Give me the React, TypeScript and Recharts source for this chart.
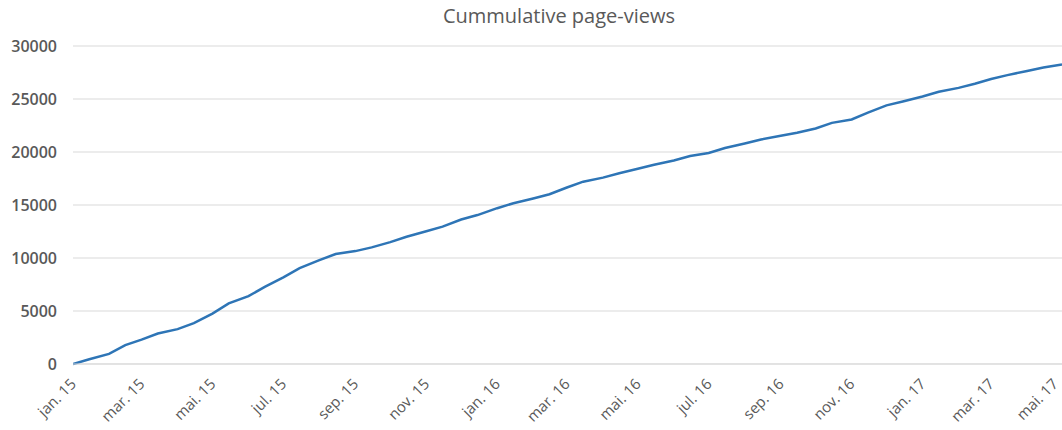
import { LineChart, Line, XAxis, YAxis, CartesianGrid } from 'recharts'

// semi-monthly readings of the cumulative count
const dates = [
    '2015-01-01', '2015-01-15', '2015-02-01', '2015-02-15', '2015-03-01', '2015-03-15',
    '2015-04-01', '2015-04-15', '2015-05-01', '2015-05-15', '2015-06-01', '2015-06-15',
    '2015-07-01', '2015-07-15', '2015-08-01', '2015-08-15', '2015-09-01', '2015-09-15',
    '2015-10-01', '2015-10-15', '2015-11-01', '2015-11-15', '2015-12-01', '2015-12-15',
    '2016-01-01', '2016-01-15', '2016-02-01', '2016-02-15', '2016-03-01', '2016-03-15',
    '2016-04-01', '2016-04-15', '2016-05-01', '2016-05-15', '2016-06-01', '2016-06-15',
    '2016-07-01', '2016-07-15', '2016-08-01', '2016-08-15', '2016-09-01', '2016-09-15',
    '2016-10-01', '2016-10-15', '2016-11-01', '2016-11-15', '2016-12-01', '2016-12-15',
    '2017-01-01', '2017-01-15', '2017-02-01', '2017-02-15', '2017-03-01', '2017-03-15',
    '2017-04-01', '2017-04-15', '2017-05-01'
]

const views = [
    0, 450, 950, 1780, 2300, 2880,
    3290, 3850, 4750, 5720, 6400, 7280,
    8180, 9050, 9800, 10380, 10650, 11000,
    11500, 12000, 12520, 12960, 13630, 14050,
    14700, 15170, 15620, 16020, 16650, 17200,
    17580, 18000, 18420, 18800, 19200, 19620,
    19900, 20370, 20800, 21180, 21530, 21820,
    22220, 22750, 23070, 23720, 24400, 24760,
    25230, 25680, 26050, 26440, 26880, 27250,
    27650, 27980, 28250
]

const tickDates = [
    '2015-01-01', '2015-03-01', '2015-05-01', '2015-07-01', '2015-09-01', '2015-11-01',
    '2016-01-01', '2016-03-01', '2016-05-01', '2016-07-01', '2016-09-01', '2016-11-01',
    '2017-01-01', '2017-03-01', '2017-05-01'
]

const tickLabels = [
    'jan. 15', 'mar. 15', 'mai. 15', 'jul. 15', 'sep. 15', 'nov. 15',
    'jan. 16', 'mar. 16', 'mai. 16', 'jul. 16', 'sep. 16', 'nov. 16',
    'jan. 17', 'mar. 17', 'mai. 17'
]

const yTicks = [0, 5000, 10000, 15000, 20000, 25000, 30000]

const dayOf = (d: string) => {
    const [y, m, day] = d.split('-').map(Number)
    return (Date.UTC(y, m - 1, day) - Date.UTC(2015, 0, 1)) / 86400000
}

const data = dates.map((d, i) => ({ t: dayOf(d), views: views[i] }))
const xTicks = tickDates.map(dayOf)

const XTick = (props: any) => {
    const { x, y, payload } = props
    const idx = xTicks.indexOf(payload.value)
    // keep the last label inside the picture
    const ax = Math.min(x + 4, 1059)
    return (
        <text
            transform={`translate(${ax}, ${y + 21}) rotate(-45)`}
            textAnchor="end"
            fill="#595959"
            fontSize={15}
            fontFamily="'Open Sans', sans-serif"
        >
            {tickLabels[idx]}
        </text>
    )
}

export default function App() {
    return (
        <div style={{ position: 'absolute', left: 0, top: 0, width: 1062, height: 430, background: '#fff' }}>
            <div
                style={{
                    position: 'absolute',
                    left: 359,
                    top: 6,
                    width: 400,
                    textAlign: 'center',
                    fontFamily: "'Open Sans', sans-serif",
                    fontSize: 20,
                    lineHeight: '20px',
                    color: '#595959'
                }}
            >
                Cummulative page-views
            </div>
            <LineChart width={1062} height={430} data={data} margin={{ top: 46, right: 0, left: 0, bottom: 0 }}>
                <CartesianGrid vertical={false} stroke="#d9d9d9" strokeWidth={1} />
                <XAxis
                    dataKey="t"
                    type="number"
                    domain={[0, xTicks[xTicks.length - 1]]}
                    ticks={xTicks}
                    tick={<XTick />}
                    tickLine={false}
                    tickSize={0}
                    tickMargin={0}
                    axisLine={{ stroke: '#d9d9d9' }}
                    height={66}
                    interval={0}
                    allowDataOverflow
                />
                <YAxis
                    domain={[0, 30000]}
                    ticks={yTicks}
                    width={73}
                    tickLine={false}
                    axisLine={false}
                    tickMargin={10}
                    tick={{ fill: '#595959', fontSize: 16, fontWeight: 600, fontFamily: "'Open Sans', sans-serif" }}
                />
                <Line
                    type="linear"
                    dataKey="views"
                    stroke="#2e75b6"
                    strokeWidth={2.5}
                    dot={false}
                    isAnimationActive={false}
                />
            </LineChart>
        </div>
    )
}
